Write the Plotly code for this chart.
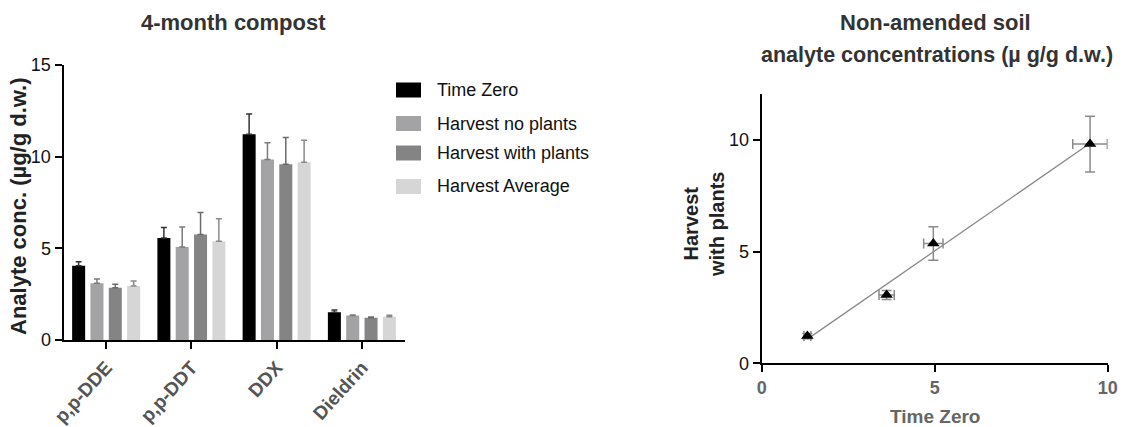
import numpy as np
import plotly.graph_objects as go

# ---- 4-month compost: analyte concentrations per treatment ----
analytes = ["p,p-DDE", "p,p-DDT", "DDX", "Dieldrin"]
series_names = ["Time Zero", "Harvest no plants", "Harvest with plants", "Harvest Average"]
time_zero = [4.05, 5.56, 11.22, 1.51]
time_zero_err = [0.22, 0.57, 1.11, 0.13]
no_plants = [3.09, 5.07, 9.85, 1.33]
no_plants_err = [0.24, 1.09, 0.91, 0.03]
with_plants = [2.85, 5.76, 9.58, 1.22]
with_plants_err = [0.19, 1.19, 1.46, 0.03]
harvest_avg = [2.95, 5.38, 9.69, 1.27]
harvest_avg_err = [0.27, 1.24, 1.20, 0.08]

# ---- Non-amended soil: time zero vs harvest with plants ----
soil_tz = [1.32, 3.61, 4.96, 9.49]
soil_tz_err = [0.10, 0.22, 0.28, 0.50]
soil_hwp = [1.22, 3.06, 5.37, 9.82]
soil_hwp_err = [0.12, 0.20, 0.75, 1.25]

bar_colors = ["#000000", "#a3a3a6", "#848484", "#d6d6d6"]
err_colors = ["#333333", "#7a7a7a", "#6a6a6a", "#8a8a8a"]

W, H = 1125, 427
FONT = "Liberation Sans, Arial, sans-serif"

fig = go.Figure()

bar_values = [time_zero, no_plants, with_plants, harvest_avg]
bar_errors = [time_zero_err, no_plants_err, with_plants_err, harvest_avg_err]
for name, vals, errs, col, ecol in zip(series_names, bar_values, bar_errors, bar_colors, err_colors):
    fig.add_trace(go.Bar(
        x=analytes, y=vals, name=name, marker=dict(color=col, line=dict(width=0)),
        error_y=dict(type="data", array=errs, arrayminus=[0] * len(errs), symmetric=False,
                     color=ecol, thickness=1.5, width=3),
        xaxis="x", yaxis="y", showlegend=False,
    ))

# Linear regression through the soil points
slope, intercept = np.polyfit(soil_tz, soil_hwp, 1)
fit_x = np.array([min(soil_tz), max(soil_tz)])
fig.add_trace(go.Scatter(
    x=fit_x, y=slope * fit_x + intercept, mode="lines",
    line=dict(color="#8a8a8a", width=1.3), xaxis="x2", yaxis="y2", showlegend=False,
))
fig.add_trace(go.Scatter(
    x=soil_tz, y=soil_hwp, mode="markers",
    marker=dict(symbol="triangle-up", size=11, color="#000000"),
    error_x=dict(type="data", array=soil_tz_err, color="#8a8a8a", thickness=1.5, width=5),
    error_y=dict(type="data", array=soil_hwp_err, color="#8a8a8a", thickness=1.5, width=5),
    xaxis="x2", yaxis="y2", showlegend=False,
))

# Plot areas in pixel terms
lx0, lx1, ly0, ly1 = 63.5, 404.5, 340, 65
rx0, rx1, ry0, ry1 = 761.7, 1107.7, 363.3, 94.3

axis_common = dict(showgrid=False, zeroline=False, showline=True, linecolor="#000000",
                   linewidth=2, ticks="outside", tickcolor="#000000", tickwidth=2, ticklen=7,
                   automargin=False)

fig.update_layout(
    width=W, height=H, margin=dict(l=0, r=0, t=0, b=0, autoexpand=False),
    paper_bgcolor="white", plot_bgcolor="white",
    barmode="group", bargap=0.14, bargroupgap=0.29,
    font=dict(family=FONT, color="#111111"),
    xaxis=dict(domain=[lx0 / W, lx1 / W], anchor="y", range=[-0.5, 3.5],
               tickangle=-48, tickfont=dict(size=19, color="#555555", family=FONT, weight="bold"),
               **axis_common),
    yaxis=dict(domain=[1 - ly0 / H, 1 - ly1 / H], anchor="x", range=[0, 15],
               tickvals=[0, 5, 10, 15], tickfont=dict(size=18, color="#111111"),
               **axis_common),
    xaxis2=dict(domain=[rx0 / W, rx1 / W], anchor="y2", range=[0, 10],
                tickvals=[0, 5, 10], tickfont=dict(size=18, color="#666666", weight="bold"),
                **axis_common),
    yaxis2=dict(domain=[1 - ry0 / H, 1 - ry1 / H], anchor="x2", range=[0, 12.05],
                tickvals=[0, 5, 10], tickfont=dict(size=18, color="#111111"),
                **axis_common),
)

annotations = [
    dict(text="<b>4-month compost</b>", x=233 / W, y=1 - 23 / H, font=dict(size=22, color="#333333")),
    dict(text="<b>Analyte conc. (µg/g d.w.)</b>", x=18 / W, y=1 - 206 / H, textangle=-90,
         font=dict(size=22, color="#222222")),
    dict(text="<b>Non-amended soil</b>", x=935 / W, y=1 - 23 / H, font=dict(size=22, color="#333333")),
    dict(text="<b>analyte concentrations (µ g/g d.w.)</b>", x=937 / W, y=1 - 55 / H,
         font=dict(size=21.5, color="#333333")),
    dict(text="<b>Harvest<br>with plants</b>", x=704 / W, y=1 - 225 / H, textangle=-90,
         font=dict(size=20, color="#222222")),
    dict(text="<b>Time Zero</b>", x=935 / W, y=1 - 416 / H, font=dict(size=19, color="#666666")),
]

# Legend drawn as swatches with labels
legend_rows = [90, 123.5, 153, 186.5]
shapes = []
for name, col, yc in zip(series_names, bar_colors, legend_rows):
    shapes.append(dict(type="rect", xref="paper", yref="paper",
                       x0=396 / W, x1=421 / W, y0=1 - (yc + 7.5) / H, y1=1 - (yc - 7.5) / H,
                       fillcolor=col, line=dict(width=0)))
    annotations.append(dict(text=name, x=435 / W, y=1 - yc / H, xanchor="left",
                            font=dict(size=18, color="#111111")))

for a in annotations:
    a.setdefault("xref", "paper")
    a.setdefault("yref", "paper")
    a.setdefault("showarrow", False)
    a.setdefault("xanchor", "center")
    a.setdefault("yanchor", "middle")

fig.update_layout(annotations=annotations, shapes=shapes)
fig.write_html("out.html")
